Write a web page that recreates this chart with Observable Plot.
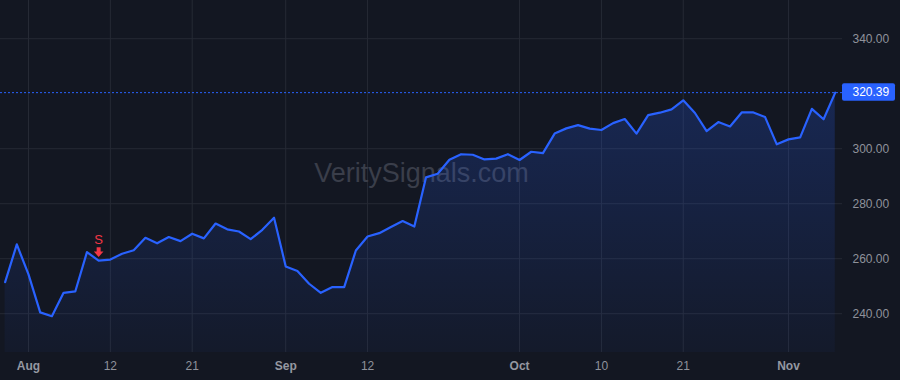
<!DOCTYPE html>
<html>
<head>
<meta charset="utf-8">
<script src="https://cdn.jsdelivr.net/npm/d3@7"></script>
<script src="https://cdn.jsdelivr.net/npm/@observablehq/plot@0.6"></script>
<style>
  html, body { margin: 0; padding: 0; background: #131722; }
  #chart { width: 900px; height: 380px; }
</style>
</head>
<body>
<div id="chart"></div>
<script>
// ---- data ----
const dates = [
  "2024-07-30","2024-07-31","2024-08-01","2024-08-02","2024-08-05","2024-08-06","2024-08-07","2024-08-08","2024-08-09",
  "2024-08-12","2024-08-13","2024-08-14","2024-08-15","2024-08-16","2024-08-19","2024-08-20","2024-08-21","2024-08-22",
  "2024-08-23","2024-08-26","2024-08-27","2024-08-28","2024-08-29","2024-08-30","2024-09-03","2024-09-04","2024-09-05",
  "2024-09-06","2024-09-09","2024-09-10","2024-09-11","2024-09-12","2024-09-13","2024-09-16","2024-09-17","2024-09-18",
  "2024-09-19","2024-09-20","2024-09-23","2024-09-24","2024-09-25","2024-09-26","2024-09-27","2024-09-30","2024-10-01",
  "2024-10-02","2024-10-03","2024-10-04","2024-10-07","2024-10-08","2024-10-09","2024-10-10","2024-10-11","2024-10-14",
  "2024-10-15","2024-10-16","2024-10-17","2024-10-18","2024-10-21","2024-10-22","2024-10-23","2024-10-24","2024-10-25",
  "2024-10-28","2024-10-29","2024-10-30","2024-10-31","2024-11-01","2024-11-04","2024-11-05","2024-11-06","2024-11-07"
];
const prices = [
  251.5, 265.2, 254.3, 240.5, 239.1, 247.6, 248.1, 262.4, 259.3, 259.7, 261.8, 263.1,
  267.6, 265.6, 267.9, 266.4, 269.1, 267.4, 272.8, 270.7, 269.9, 267.1, 270.5, 274.9,
  257.2, 255.5, 250.9, 247.6, 249.7, 249.7, 263.0, 268.1, 269.3, 271.5, 273.7, 271.7,
  289.6, 290.9, 296.0, 298.0, 297.8, 296.1, 296.4, 298.0, 295.9, 298.9, 298.4, 305.5,
  307.4, 308.6, 307.3, 306.8, 309.3, 310.8, 305.5, 312.2, 313.1, 314.3, 317.6, 313.0,
  306.4, 309.7, 308.1, 313.2, 313.2, 311.5, 301.6, 303.4, 304.1, 314.5, 310.7, 320.39
];
const monthTickDates = ["2024-08-01","2024-09-03","2024-10-01","2024-11-01"];
const monthTickLabels = ["Aug","Sep","Oct","Nov"];
const dayTickDates = ["2024-08-12","2024-08-21","2024-09-12","2024-10-10","2024-10-21"];
const dayTickLabels = ["12","21","12","10","21"];
const yTicks = [240, 260, 280, 300, 340];
const signalDates = ["2024-08-09"];
const signalLabels = ["S"];
const watermark = "VeritySignals.com";

// ---- build ----
const data = dates.map((d, i) => ({i, date: d, v: prices[i]}));
const idxOf = d => dates.indexOf(d);
const monthIdx = monthTickDates.map(idxOf);
const dayIdx = dayTickDates.map(idxOf);
const monthMap = new Map(monthIdx.map((k, j) => [k, monthTickLabels[j]]));
const dayMap = new Map(dayIdx.map((k, j) => [k, dayTickLabels[j]]));
const signals = signalDates.map((d, j) => ({i: idxOf(d), v: prices[idxOf(d)], label: signalLabels[j]}));
const last = prices[prices.length - 1];
const yMin = 225.9, yMax = 353.9;

const BLUE = "#2962ff";
const RED = "#f23645";
const GRID = "#262a35";

const gradDefs = () => {
  const defs = d3.create("svg:defs");
  const lg = defs.append("linearGradient").attr("id", "areaGrad")
    .attr("x1", 0).attr("y1", 0).attr("x2", 0).attr("y2", 1);
  lg.append("stop").attr("offset", "0%").attr("stop-color", BLUE).attr("stop-opacity", 0.22);
  lg.append("stop").attr("offset", "100%").attr("stop-color", BLUE).attr("stop-opacity", 0.04);
  return defs.node();
};

const arrowSymbol = {
  draw(ctx, size) {
    ctx.moveTo(-2, -5);
    ctx.lineTo(2, -5);
    ctx.lineTo(2, -0.6);
    ctx.lineTo(4.8, -0.6);
    ctx.lineTo(0, 4.8);
    ctx.lineTo(-4.8, -0.6);
    ctx.lineTo(-2, -0.6);
    ctx.closePath();
  }
};

function priceBox(index, scales, values, dimensions) {
  const y = scales.y(last);
  const g = d3.create("svg:g");
  g.append("rect")
    .attr("x", dimensions.width - dimensions.marginRight)
    .attr("y", y - 9)
    .attr("width", 53)
    .attr("height", 17.5)
    .attr("rx", 2)
    .attr("fill", BLUE);
  return g.node();
}

const chart = Plot.plot({
  width: 900,
  height: 380,
  marginLeft: 0,
  marginRight: 58,
  marginTop: 0,
  marginBottom: 28,
  style: {
    background: "#131722",
    color: "#8f929b",
    fontFamily: "'Liberation Sans', Arial, sans-serif",
    fontSize: "12px"
  },
  x: {type: "linear", domain: [-0.395, 71.62], axis: null},
  y: {domain: [yMin, yMax], axis: null},
  marks: [
    gradDefs,
    Plot.gridX([...monthIdx, ...dayIdx], {stroke: GRID, strokeOpacity: 1}),
    Plot.gridY(yTicks, {stroke: GRID, strokeOpacity: 1}),
    Plot.text([watermark], {text: d => d, frameAnchor: "middle", dy: -3, fontSize: 27, fill: "#3a3e4a"}),
    Plot.areaY(data, {x: "i", y1: yMin, y2: "v", fill: "url(#areaGrad)"}),
    Plot.ruleY([last], {stroke: BLUE, strokeWidth: 1, strokeDasharray: "2,2"}),
    Plot.line(data, {x: "i", y: "v", stroke: BLUE, strokeWidth: 2.2}),
    Plot.dot(signals, {x: "i", y: "v", dy: -8.5, symbol: arrowSymbol, r: 5, fill: RED, stroke: null}),
    Plot.text(signals, {x: "i", y: "v", text: "label", dy: -21, fill: RED, fontSize: 13}),
    Plot.axisY(yTicks, {anchor: "right", tickSize: 0, tickPadding: 10, tickFormat: d => d.toFixed(2), label: null, fill: "#8f929b"}),
    Plot.axisX(monthIdx, {anchor: "bottom", tickSize: 0, tickPadding: 9, tickFormat: d => monthMap.get(d), label: null, fontWeight: "bold", fill: "#9598a1"}),
    Plot.axisX(dayIdx, {anchor: "bottom", tickSize: 0, tickPadding: 9, tickFormat: d => dayMap.get(d), label: null, fill: "#8f929b"}),
    priceBox,
    Plot.text([last], {y: d => d, frameAnchor: "right", dx: 10, textAnchor: "start", text: d => d.toFixed(2), fill: "#ffffff", fontSize: 12})
  ]
});
document.getElementById("chart").appendChild(chart);
</script>
</body>
</html>
